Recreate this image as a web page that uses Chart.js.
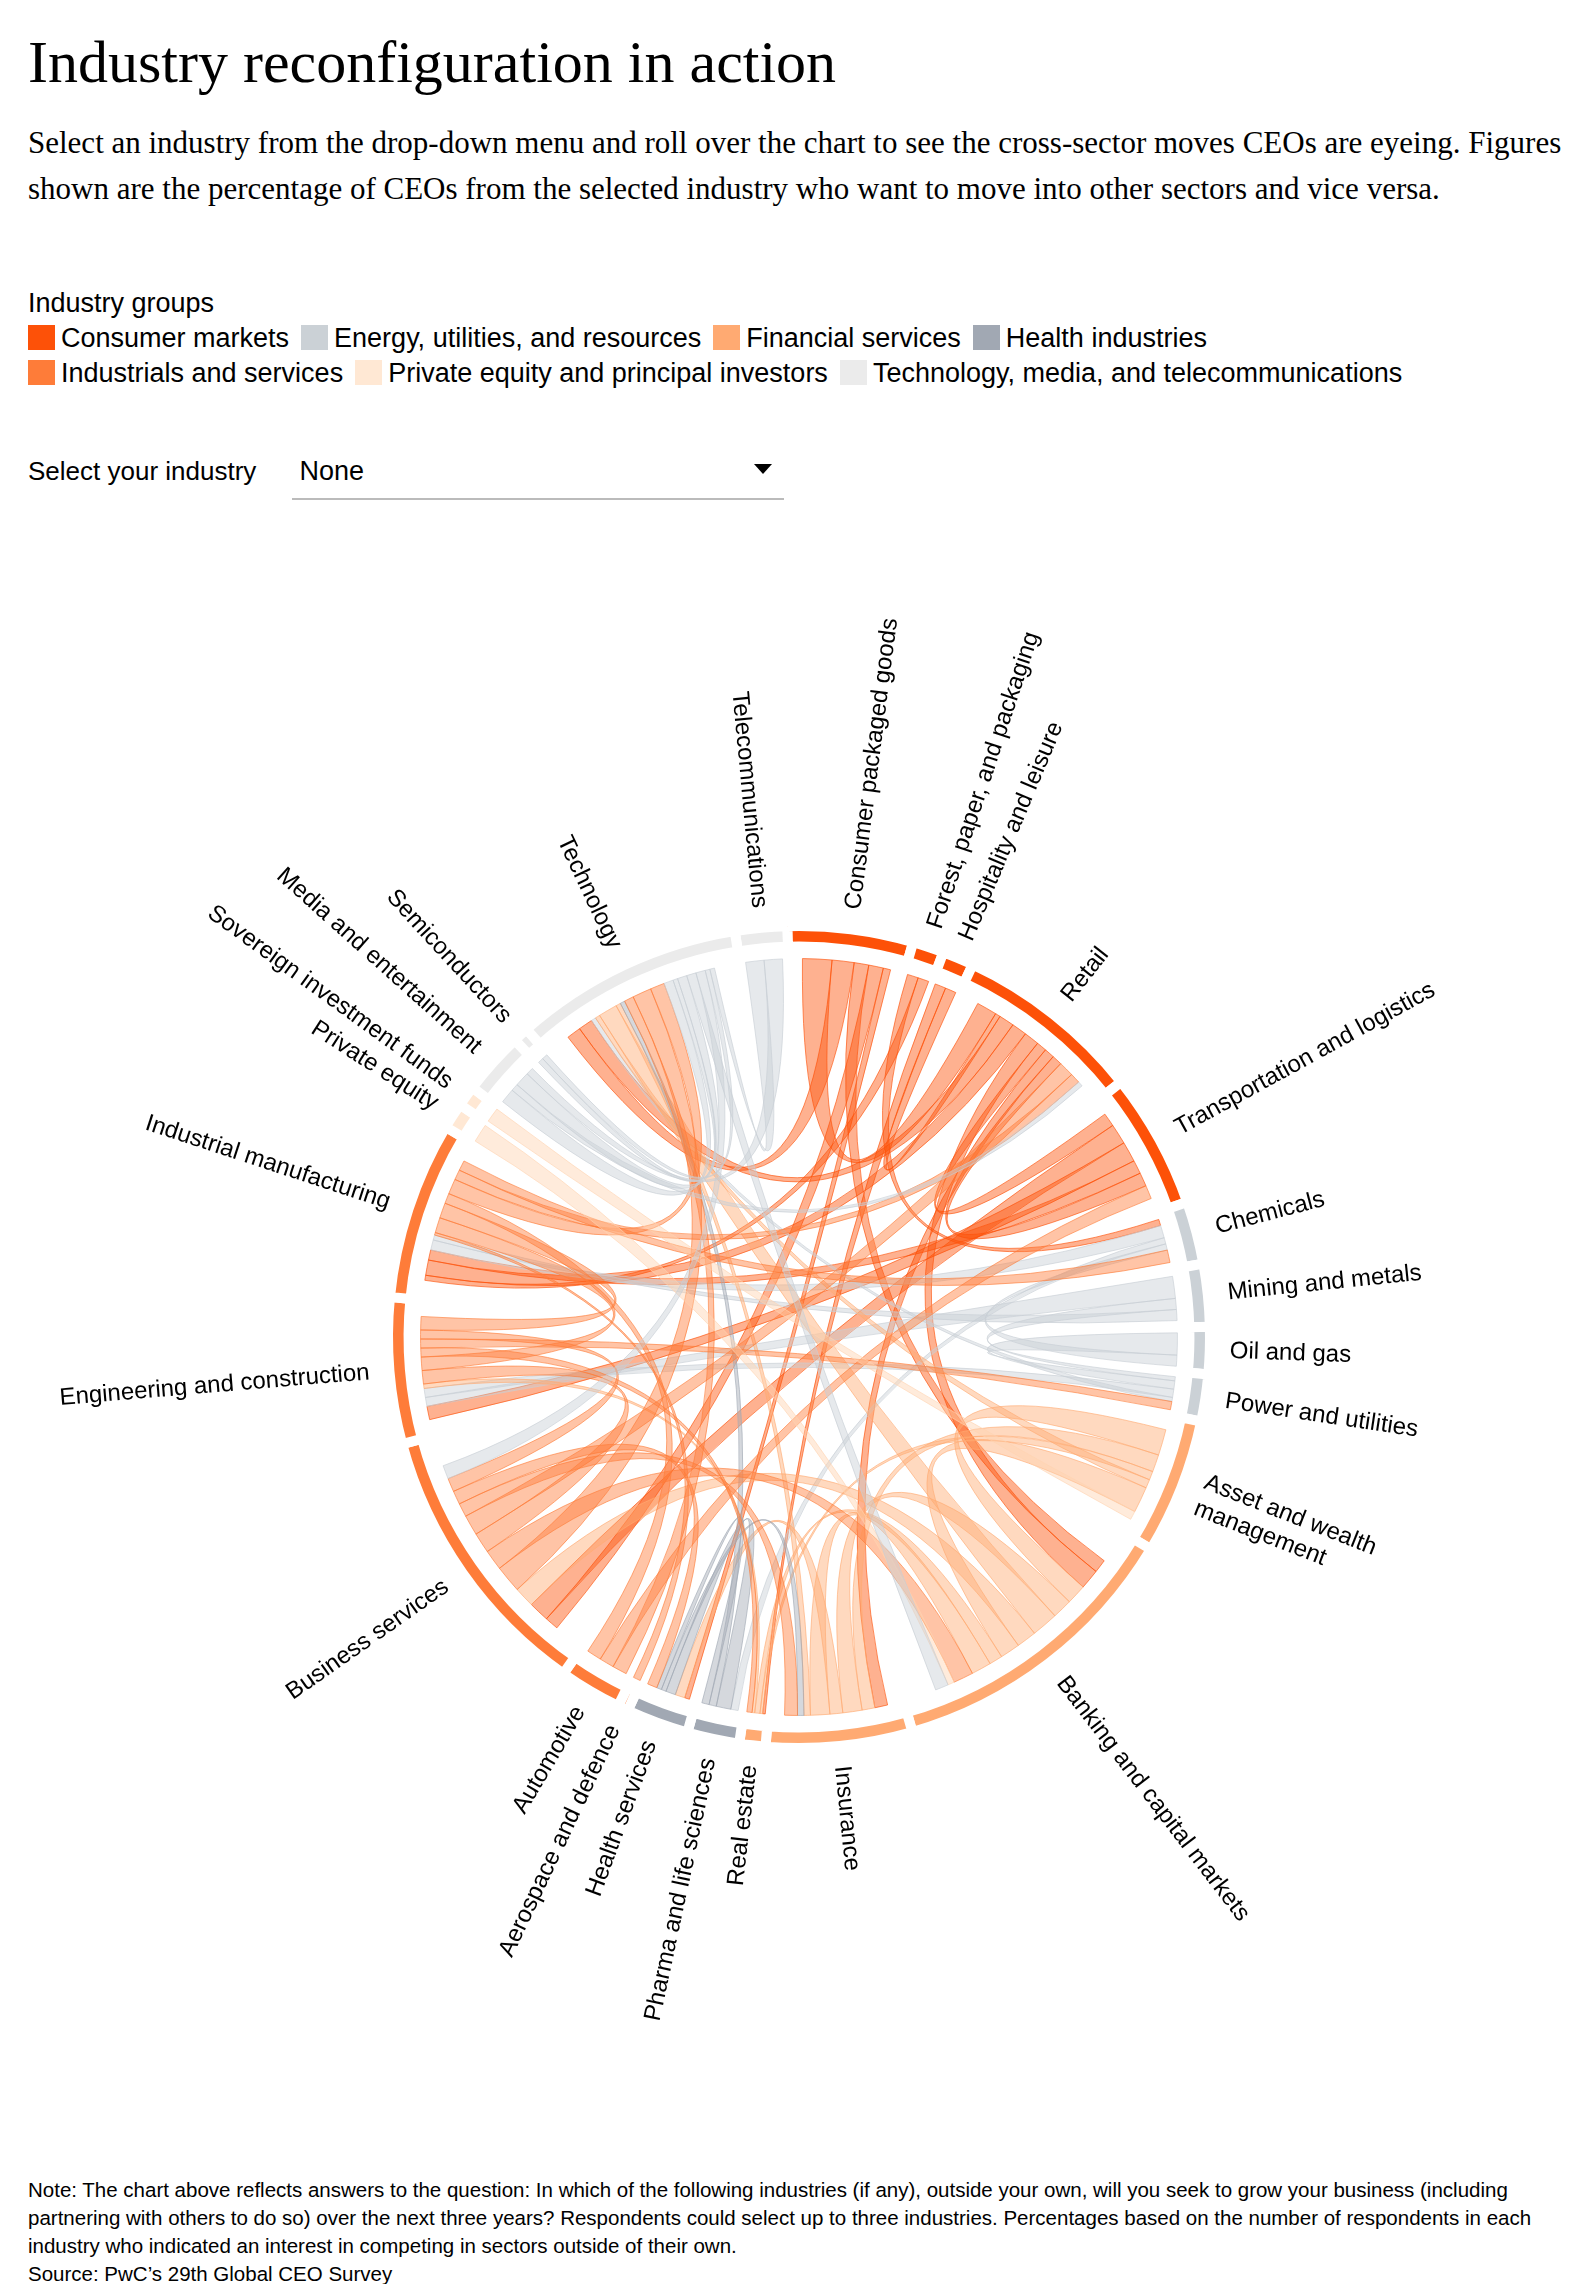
<!DOCTYPE html>
<html>
<head>
<meta charset="utf-8">
<script src="https://cdn.jsdelivr.net/npm/chart.js"></script>
<style>
  html, body { margin: 0; background: #fff; font-family: "Liberation Sans", Arial, sans-serif; color: #000; }
  .wrap { width: 1588px; height: 2284px; position: relative; }
  h1 { font-family: "Liberation Serif", serif; font-weight: normal; font-size: 60px; margin: 0; position: absolute; left: 28px; top: 28px; }
  .sub { font-family: "Liberation Serif", serif; font-size: 31px; line-height: 46px; position: absolute; left: 28px; top: 120px; width: 1540px; }
  .lg { position: absolute; left: 28px; top: 286px; font-size: 27px; line-height: 35px; }
  .lg span.sw { display: inline-block; width: 27px; height: 25px; vertical-align: -3px; margin-right: 6px; }
  .lg span.it { margin-right: 12px; }
  .sel { position: absolute; left: 28px; top: 456px; font-size: 26px; }
  .box { position: absolute; left: 292px; top: 456px; width: 492px; height: 42px; border-bottom: 2px solid #bbb; font-size: 27px; }
  .box .tri { position: absolute; right: 12px; top: 8px; width: 0; height: 0; border-left: 9px solid transparent; border-right: 9px solid transparent; border-top: 10px solid #000; }
  #chord { position: absolute; left: 0; top: 537px; }
  .note { position: absolute; left: 28px; top: 2176px; font-size: 20.5px; line-height: 28px; width: 1560px; }
</style>
</head>
<body>
<div class="wrap">
  <h1>Industry reconfiguration in action</h1>
  <div class="sub">Select an industry from the drop-down menu and roll over the chart to see the cross-sector moves CEOs are eyeing. Figures shown are the percentage of CEOs from the selected industry who want to move into other sectors and vice versa.</div>
  <div class="lg" id="legend"></div>
  <div class="sel">Select your industry</div>
  <div class="box">&nbsp;None<div class="tri"></div></div>
  <canvas id="chord" width="1588" height="1600"></canvas>
  <div class="note">Note: The chart above reflects answers to the question: In which of the following industries (if any), outside your own, will you seek to grow your business (including partnering with others to do so) over the next three years? Respondents could select up to three industries. Percentages based on the number of respondents in each industry who indicated an interest in competing in sectors outside of their own.<br>Source: PwC’s 29th Global CEO Survey</div>
</div>
<script>
// groups
var groupNames = ["Consumer markets", "Energy, utilities, and resources", "Financial services", "Health industries",
  "Industrials and services", "Private equity and principal investors", "Technology, media, and telecommunications"];
var groupColors = ["#FD5108", "#CBD1D6", "#FFAA72", "#A1A8B3", "#FE7C39", "#FFE8D4", "#EBEBEB"];

// industries clockwise from top
var industries = ["Telecommunications", "Consumer packaged goods", "Forest, paper, and packaging", "Hospitality and leisure",
  "Retail", "Transportation and logistics", "Chemicals", "Mining and metals", "Oil and gas", "Power and utilities",
  "Asset and wealth management", "Banking and capital markets", "Insurance", "Real estate", "Pharma and life sciences",
  "Health services", "Aerospace and defence", "Automotive", "Business services", "Engineering and construction",
  "Industrial manufacturing", "Private equity", "Sovereign investment funds", "Media and entertainment",
  "Semiconductors", "Technology"];
var industryGroup = [6, 0, 0, 0, 0, 0, 1, 1, 1, 1, 2, 2, 2, 2, 3, 3, 4, 4, 4, 4, 4, 5, 5, 6, 6, 6];
var arcSize = [5, 12, 3, 3, 18, 13, 6, 6, 4.5, 4.5, 13, 29, 14, 2.5, 5, 6, 1, 6, 27, 14, 17, 2.5, 2, 6, 1.5, 22];

// flows between industries (source index, target index, weight)
var flowFrom = [1,1,1,1,1, 2,2, 3,3, 4,4,4,4,4, 5,5,5,5, 6,6,7,7,7,8,8,9,9, 10,10,10,10, 11,11,11,11,11,
  12,12,12, 13, 14,14,15,15, 17,17,16, 18,18,18,18,18,18, 19,19,19,19, 20,20,20,20,20, 21,22, 23,23,24, 25,25,25,25,0,0];
var flowTo = [4,25,11,18,15, 6,20, 13,4, 25,20,11,5,12, 18,19,20,4, 20,14,19,9,20,9,6,19,25, 11,12,13,25, 12,25,18,10,13,
  15,11,25, 19, 15,25,12,14, 25,5,20, 25,11,19,4,12,15, 20,13,9,18, 19,17,25,4,6, 11,10, 25,4,25, 23,11,18,24,25,23];
var flowValue = [4,3,2,2,1, 1,1, 1,1, 3,3,3,2,2, 3,3,2,2, 2,1,2,1,1,2,1,2,1, 3,2,1,1, 3,4,3,3,2,
  2,3,1, 1, 2,1,1,1, 2,2,0.5, 4,3,3,3,2,2, 3,2,2,2, 3,2,3,2,2, 1,1, 2,1,1, 2,2,2,1,1,1];

var legend = document.getElementById("legend");
var html = "Industry groups<br>";
groupNames.forEach(function (g, i) {
  html += '<span class="it"><span class="sw" style="background:' + groupColors[i] + '"></span>' + g + '</span>';
  if (i == 3) html += "<br>";
});
legend.innerHTML = html;

var colors = industryGroup.map(function (g) { return groupColors[g]; });

function hexA(hex, a) {
  var n = parseInt(hex.slice(1), 16);
  return "rgba(" + (n >> 16) + "," + ((n >> 8) & 255) + "," + (n & 255) + "," + a + ")";
}

var chordPlugin = {
  id: "chords",
  beforeDatasetsDraw: function (chart) {
    var ctx = chart.ctx;
    var arcs = chart.getDatasetMeta(0).data;
    var totals = industries.map(function () { return 0; });
    flowFrom.forEach(function (f, k) { totals[f] += flowValue[k]; totals[flowTo[k]] += flowValue[k]; });
    var cursor = arcs.map(function (a) {
      var pad = (a.endAngle - a.startAngle) * 0.12;
      return { pos: a.startAngle + pad, span: a.endAngle - a.startAngle - 2 * pad };
    });
    var cx = arcs[0].x, cy = arcs[0].y;
    var r = arcs[0].innerRadius - 12;
    function take(i, v) {
      var w = cursor[i].span * v / totals[i];
      var s = cursor[i].pos;
      cursor[i].pos += w;
      return [s, s + w];
    }
    ctx.save();
    flowFrom.forEach(function (f, k) {
      var t = flowTo[k];
      var a = take(f, flowValue[k]);
      var b = take(t, flowValue[k]);
      ctx.beginPath();
      ctx.arc(cx, cy, r, a[0], a[1]);
      ctx.quadraticCurveTo(cx, cy, cx + r * Math.cos(b[0]), cy + r * Math.sin(b[0]));
      ctx.arc(cx, cy, r, b[0], b[1]);
      ctx.quadraticCurveTo(cx, cy, cx + r * Math.cos(a[0]), cy + r * Math.sin(a[0]));
      ctx.closePath();
      var col = colors[f];
      if (industryGroup[f] == 6 || industryGroup[f] == 1) col = "#C8CED4";
      if (industryGroup[f] == 5) col = "#FFD3B0";
      ctx.fillStyle = hexA(col, 0.45);
      ctx.fill();
      ctx.strokeStyle = hexA(col, 0.8);
      ctx.lineWidth = 0.8;
      ctx.stroke();
    });
    ctx.restore();
  },
  afterDatasetsDraw: function (chart) {
    var ctx = chart.ctx;
    var arcs = chart.getDatasetMeta(0).data;
    ctx.save();
    ctx.font = "24px 'Liberation Sans', Arial, sans-serif";
    ctx.fillStyle = "#000";
    ctx.textBaseline = "middle";
    arcs.forEach(function (arc, i) {
      var a = (arc.startAngle + arc.endAngle) / 2;
      var deg = ((a * 180 / Math.PI) % 360 + 360) % 360; // 0 = right, 90 = down
      var R = arc.outerRadius + 20;
      var lines = industries[i] == "Asset and wealth management" ? ["Asset and wealth", "management"] : [industries[i]];
      ctx.save();
      ctx.translate(arc.x, arc.y);
      if (deg < 89.5 || deg > 270) {
        ctx.rotate(a);
        ctx.textAlign = "left";
        lines.forEach(function (l, j) { ctx.fillText(l, R, (j - (lines.length - 1) / 2) * 28); });
      } else {
        ctx.rotate(a + Math.PI);
        ctx.textAlign = "right";
        lines.forEach(function (l, j) { ctx.fillText(l, -R, (j - (lines.length - 1) / 2) * 28); });
      }
      ctx.restore();
    });
    ctx.restore();
  }
};

new Chart(document.getElementById("chord").getContext("2d"), {
  type: "doughnut",
  data: {
    labels: industries,
    datasets: [{ data: arcSize, backgroundColor: colors, borderColor: "#fff", borderWidth: 10 }]
  },
  options: {
    responsive: false,
    animation: false,
    rotation: -9,
    cutout: "95%",
    layout: { padding: { top: 384, bottom: 384, left: 383, right: 373 } },
    plugins: { legend: { display: false }, tooltip: { enabled: false } }
  },
  plugins: [chordPlugin]
});
</script>
</body>
</html>
